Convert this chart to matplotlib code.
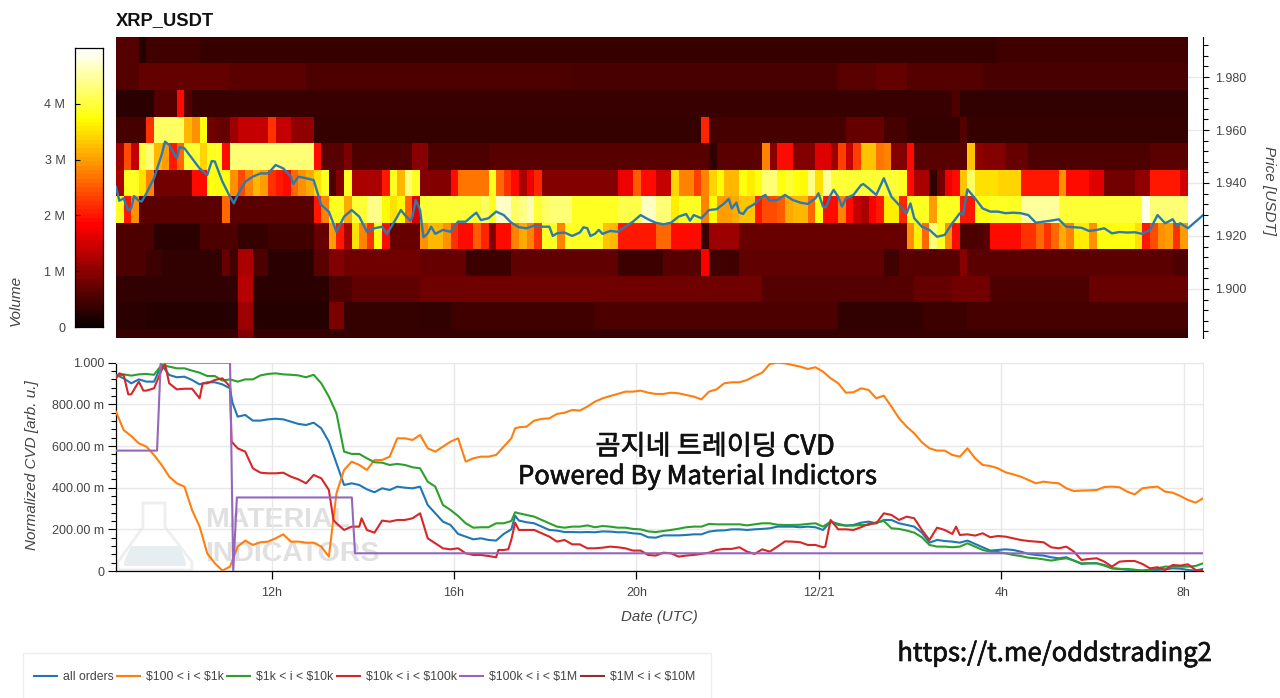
import numpy as np
import matplotlib
matplotlib.use("Agg")
import matplotlib.pyplot as plt
import matplotlib.patheffects as pe
from matplotlib.patches import Rectangle, Polygon

plt.rcParams['font.family'] = ['Liberation Sans', 'Noto Sans CJK KR', 'DejaVu Sans']
plt.rcParams['text.parse_math'] = False

W, H = 1280, 698
N_COLS = 141

# hours since 12/20 00:00 of the first sample, samples every 10 minutes
t_start = 8.59

# heatmap rows, volume in millions as (number of 10 min bins, value), top row first
row_199 = [(3, 0.55), (1, 0.2), (7, 0.42), (105, 0.35), (25, 0.42)]
row_198 = [(3, 0.55), (12, 0.68), (10, 0.62), (35, 0.5), (35, 0.47), (5, 0.6), (4, 0.68), (10, 0.55), (22, 0.47)]
row_197 = [(5, 0.25), (3, 0.55), (1, 1.9), (1, 0.55), (100, 0.36), (1, 0.5), (30, 0.3)]
row_196 = [(4, 0.45), (1, 2.2), (4, 4.2), (1, 3.2), (1, 2.9), (1, 3.8), (1, 0.8), (2, 0.7), (1, 1.1), (4, 1.4),
           (1, 2.2), (2, 1.4), (3, 1.0), (51, 0.33), (1, 2.1), (18, 0.45), (5, 0.7), (3, 0.45), (7, 0.33), (1, 0.55), (29, 0.33)]
row_195 = [(1, 1.1), (1, 2.4), (1, 1.4), (1, 4.0), (1, 4.3), (1, 3.2), (1, 3.0), (1, 2.0), (1, 2.6), (2, 4.0), (1, 3.4),
           (2, 3.9), (1, 1.9), (11, 4.3), (1, 1.9), (3, 0.6), (1, 0.85), (8, 0.5), (2, 0.95), (8, 0.5), (29, 0.58), (1, 0.3),
           (6, 0.62), (1, 2.8), (1, 0.95), (2, 1.9), (3, 0.9), (2, 1.6), (1, 1.1), (1, 2.3), (1, 1.4), (1, 2.3), (2, 3.3),
           (1, 2.7), (1, 2.8), (2, 0.9), (1, 1.9), (7, 0.6), (1, 3.3), (1, 1.0), (3, 0.9), (3, 0.7), (16, 0.5), (6, 0.6)]
row_194 = [(1, 1.2), (2, 3.9), (1, 3.5), (1, 2.8), (5, 0.8), (2, 1.9), (3, 3.8), (1, 2.9), (1, 2.4), (1, 2.8), (1, 3.2),
           (1, 3.0), (1, 2.2), (1, 2.0), (1, 1.9), (1, 2.6), (1, 2.9), (1, 3.1), (1, 3.5), (1, 3.9), (1, 0.5), (1, 0.9),
           (1, 3.9), (4, 1.2), (1, 2.0), (1, 3.9), (1, 3.2), (1, 4.3), (1, 3.9), (4, 0.9), (1, 1.9), (3, 2.7), (1, 2.7),
           (1, 3.9), (1, 2.6), (1, 2.2), (1, 1.9), (1, 1.2), (1, 1.7), (1, 2.1), (10, 0.9), (2, 1.7), (1, 2.5), (2, 1.9),
           (2, 1.4), (1, 3.4), (2, 2.8), (1, 2.3), (1, 2.8), (1, 3.4), (1, 3.7), (2, 3.2), (1, 3.8), (1, 3.6), (1, 3.8),
           (2, 4.3), (1, 3.8), (1, 4.0), (1, 3.8), (1, 3.7), (1, 4.4), (1, 3.5), (1, 4.5), (9, 4.0), (1, 3.9), (1, 1.9),
           (2, 1.2), (1, 0.3), (1, 0.8), (1, 1.7), (1, 1.9), (1, 3.3), (1, 4.2), (3, 3.5), (3, 3.4), (5, 2.0), (1, 2.9),
           (3, 1.9), (2, 1.6), (4, 0.8), (2, 1.0), (4, 2.0), (1, 1.5)]
row_193 = [(1, 3.9), (1, 2.0), (1, 2.9), (11, 0.62), (1, 2.6), (11, 0.62), (1, 2.0), (1, 2.8), (2, 3.9), (1, 3.1), (2, 4.0),
           (2, 4.4), (1, 3.7), (1, 3.5), (1, 3.7), (1, 2.6), (1, 1.6), (8, 4.0), (1, 4.2), (1, 3.9), (2, 4.7), (1, 4.2),
           (1, 4.4), (1, 4.6), (1, 4.0), (1, 4.2), (1, 4.3), (2, 4.3), (6, 3.9), (3, 4.1), (2, 4.7), (2, 4.3), (1, 3.6),
           (3, 3.9), (1, 2.8), (1, 3.7), (2, 3.0), (1, 3.1), (2, 3.3), (1, 2.0), (2, 2.4), (1, 2.5), (1, 3.1), (2, 3.2),
           (1, 2.6), (1, 3.8), (2, 1.9), (1, 2.8), (1, 1.9), (1, 1.4), (1, 1.2), (1, 1.8), (1, 2.0), (2, 3.6), (1, 2.1),
           (3, 3.9), (1, 3.0), (3, 3.9), (2, 2.0), (2, 3.8), (4, 3.9), (5, 4.5), (11, 4.0), (1, 4.9), (5, 4.3)]
row_192 = [(5, 0.5), (6, 0.25), (5, 0.5), (4, 0.33), (6, 0.42), (2, 0.7), (1, 3.0), (1, 2.0), (1, 1.2), (1, 3.5), (1, 2.8),
           (1, 2.2), (1, 3.8), (1, 1.9), (4, 0.7), (1, 2.9), (2, 3.2), (1, 2.9), (1, 2.2), (2, 1.9), (1, 2.5), (1, 2.1),
           (1, 0.9), (2, 1.9), (1, 2.8), (1, 3.1), (1, 2.8), (1, 2.2), (2, 3.9), (1, 2.8), (5, 3.9), (1, 3.3), (1, 3.2),
           (5, 2.0), (2, 2.6), (4, 1.9), (1, 0.35), (4, 1.1), (22, 0.72), (1, 2.9), (1, 3.6), (1, 2.6), (1, 4.3), (1, 3.9),
           (1, 2.9), (1, 1.9), (3, 0.5), (1, 0.6), (4, 1.9), (2, 2.2), (1, 2.6), (1, 2.2), (1, 2.6), (1, 3.1), (1, 2.8),
           (2, 3.6), (1, 2.9), (5, 3.8), (1, 3.5), (1, 2.0), (1, 2.4), (1, 2.9), (1, 3.0), (1, 2.2), (1, 3.0)]
row_191 = [(4, 0.5), (2, 0.38), (8, 0.3), (1, 0.7), (1, 0.42), (2, 1.2), (2, 0.5), (6, 0.25), (2, 0.6), (2, 0.9), (10, 0.78),
           (6, 0.7), (6, 0.38), (14, 0.66), (6, 0.38), (5, 0.58), (1, 1.8), (4, 0.42), (19, 0.66), (2, 0.42), (8, 0.58), (1, 0.95),
           (27, 0.62), (6, 0.5)]
row_190 = [(16, 0.3), (2, 1.3), (10, 0.25), (3, 0.5), (9, 0.66), (45, 0.76), (20, 0.56), (5, 0.7), (5, 0.8), (13, 0.5), (13, 0.72)]
row_189 = [(4, 0.25), (12, 0.2), (2, 1.1), (10, 0.2), (2, 0.85), (10, 0.33), (4, 0.3), (19, 0.42), (32, 0.5), (11, 0.3), (6, 0.38), (29, 0.46)]
row_188 = [(16, 0.33), (2, 0.9), (123, 0.33)]
rows_top_first = [row_199, row_198, row_197, row_196, row_195, row_194, row_193, row_192, row_191, row_190, row_189, row_188]

# last traded price, 10 min samples
price = [1.9386, 1.9342, 1.9305, 1.9333, 1.9361, 1.9418, 1.9506, 1.9543, 1.9493, 1.9531, 1.9493, 1.9455, 1.9430, 1.9481, 1.9405, 1.9348,
         1.9355, 1.9405, 1.9424, 1.9436, 1.9436, 1.9468, 1.9455, 1.9424, 1.9424, 1.9418, 1.9411, 1.9317, 1.9292, 1.9216, 1.9273, 1.9298,
         1.9273, 1.9216, 1.9229, 1.9235, 1.9225, 1.9273, 1.9279, 1.9273, 1.9298, 1.9210, 1.9208, 1.9223, 1.9216, 1.9254, 1.9254, 1.9279,
         1.9260, 1.9267, 1.9292, 1.9279, 1.9250, 1.9233, 1.9229, 1.9239, 1.9235, 1.9235, 1.9210, 1.9213, 1.9200, 1.9213, 1.9229, 1.9208,
         1.9208, 1.9219, 1.9216, 1.9235, 1.9254, 1.9279, 1.9263, 1.9250, 1.9244, 1.9250, 1.9273, 1.9283, 1.9279, 1.9267, 1.9298, 1.9301,
         1.9323, 1.9304, 1.9288, 1.9304, 1.9321, 1.9348, 1.9333, 1.9336, 1.9355, 1.9336, 1.9326, 1.9321, 1.9342, 1.9311, 1.9355, 1.9348,
         1.9342, 1.9355, 1.9392, 1.9380, 1.9355, 1.9418, 1.9348, 1.9317, 1.9286, 1.9267, 1.9235, 1.9223, 1.9197, 1.9204, 1.9248, 1.9286,
         1.9376, 1.9342, 1.9304, 1.9292, 1.9292, 1.9286, 1.9288, 1.9286, 1.9279, 1.9250, 1.9254, 1.9258, 1.9263, 1.9235, 1.9233, 1.9231,
         1.9219, 1.9223, 1.9229, 1.9210, 1.9215, 1.9213, 1.9214, 1.9208, 1.9223, 1.9279, 1.9248, 1.9263, 1.9248, 1.9229, 1.9254, 1.9279]
# spikes between the 10 min samples, position in bins and price
price_spike_bin = [0.44, 1.62, 2.37, 3.38, 6.45, 8.33, 12.6, 15.5, 23.3, 35.6, 37.46, 38.7, 39.43, 40.44, 41.45, 47.4,
                   57.46, 61.5, 62.4, 63.5, 75.5, 80.6, 81.6, 82.5, 85.4, 92.4, 93.4, 94.4, 95.5, 98.3, 104.5, 111.4, 139.5]
price_spike = [1.9333, 1.9296, 1.9351, 1.9330, 1.9556, 1.9535, 1.9483, 1.9323, 1.9396, 1.9208, 1.9298, 1.9258, 1.9336, 1.9195, 1.9235, 1.9288,
               1.9200, 1.9233, 1.9200, 1.9223, 1.9258, 1.9340, 1.9326, 1.9283, 1.9355, 1.9361, 1.9308, 1.9374, 1.9311, 1.9396, 1.9323, 1.9279, 1.9239]

# normalized CVD per order size, same 10 min samples
cvd_all = [.941, .925, .901, .920, .909, .909, .989, .941, .930, .933, .917, .896, .906, .906, .896, .877,
           .741, .749, .722, .722, .728, .731, .728, .717, .706, .701, .712, .685, .621, .517, .413, .421,
           .413, .392, .378, .397, .389, .405, .400, .397, .405, .317, .277, .237, .221, .178, .165, .152,
           .157, .149, .146, .178, .200, .242, .234, .229, .213, .197, .194, .187, .187, .186, .187, .186,
           .190, .189, .186, .186, .181, .178, .162, .160, .171, .171, .171, .173, .176, .176, .189, .194,
           .195, .200, .200, .197, .200, .202, .205, .213, .213, .213, .210, .213, .210, .197, .237, .226,
           .218, .221, .232, .237, .229, .245, .245, .229, .221, .213, .184, .136, .149, .144, .141, .136,
           .146, .130, .114, .098, .101, .104, .101, .093, .082, .077, .074, .066, .061, .066, .050, .034,
           .037, .037, .029, .013, .010, .006, .005, .002, .005, .005, .008, .013, .011, .005, .002, .010]
cvd_100_1k = [.765, .677, .648, .613, .597, .557, .509, .453, .421, .405, .293, .213, .085, .037, .002, .021,
              .117, .146, .125, .138, .141, .157, .176, .141, .141, .136, .136, .117, .069, .373, .485, .525,
              .509, .485, .533, .533, .549, .637, .637, .629, .653, .589, .573, .597, .621, .637, .525, .541,
              .549, .549, .557, .597, .637, .690, .693, .722, .730, .733, .754, .760, .773, .770, .789, .813,
              .829, .840, .850, .861, .861, .866, .856, .850, .850, .856, .853, .845, .837, .824, .861, .872,
              .901, .906, .906, .917, .936, .952, .994, 1.0, .997, .989, .981, .970, .978, .957, .925, .901,
              .856, .858, .877, .869, .829, .842, .789, .733, .693, .661, .618, .589, .578, .578, .557, .549,
              .589, .541, .509, .504, .493, .474, .464, .453, .437, .421, .429, .424, .421, .397, .384, .386,
              .387, .389, .403, .405, .402, .381, .368, .397, .402, .405, .381, .376, .360, .341, .328, .349]
cvd_1k_10k = [.933, .944, .938, .944, .946, .942, .989, .981, .973, .973, .962, .952, .936, .936, .914, .920,
              .909, .920, .920, .939, .946, .949, .944, .942, .939, .930, .942, .901, .837, .757, .573, .562,
              .562, .541, .522, .520, .509, .514, .509, .498, .493, .429, .405, .317, .293, .264, .229, .208,
              .210, .210, .229, .229, .240, .277, .269, .261, .245, .229, .213, .208, .213, .213, .219, .210,
              .216, .213, .208, .208, .202, .200, .190, .187, .192, .197, .203, .210, .213, .213, .226, .224,
              .224, .224, .224, .219, .224, .229, .229, .222, .221, .221, .222, .226, .229, .213, .237, .221,
              .218, .218, .221, .221, .234, .240, .205, .202, .194, .184, .162, .125, .117, .117, .114, .117,
              .133, .117, .101, .093, .091, .085, .077, .072, .064, .061, .056, .050, .056, .061, .050, .037,
              .037, .037, .026, .013, .010, .010, .006, .002, .005, .013, .021, .021, .021, .021, .024, .037]
cvd_10k_100k = [.925, .941, .848, .909, .866, .877, .965, .901, .872, .875, .875, .829, .901, .917, .925, .885,
                .589, .573, .493, .472, .469, .469, .472, .453, .440, .421, .461, .445, .389, .229, .197, .213,
                .213, .197, .184, .242, .237, .245, .245, .253, .277, .157, .133, .109, .104, .109, .085, .077,
                .077, .072, .066, .101, .150, .197, .197, .197, .181, .165, .141, .149, .128, .128, .109, .109,
                .112, .117, .114, .109, .098, .098, .077, .074, .088, .085, .069, .074, .077, .082, .088, .101,
                .106, .106, .114, .093, .082, .104, .093, .117, .142, .141, .138, .125, .125, .114, .245, .200,
                .200, .197, .210, .226, .229, .277, .269, .245, .261, .253, .197, .149, .208, .197, .178, .173,
                .176, .170, .181, .162, .168, .165, .157, .149, .144, .141, .138, .114, .109, .117, .093, .053,
                .058, .061, .045, .021, .045, .048, .048, .034, .013, .018, .005, .029, .026, .032, .005, .002]
all_spike_bin = [15.3, 52.5]
all_spike = [.810, .265]
orange_spike_bin = [52.5]
orange_spike = [.685]
green_spike_bin = [52.5]
green_spike = [.282]
red_spike_bin = [0.44, 1.62, 3.6, 6.45, 11.4, 15.2, 28.6, 32.3, 50.3, 51.6, 52.5, 93.3, 110.5]
red_spike = [.949, .848, .866, .994, .901, .621, .245, .253, .101, .104, .232, .117, .213]

# this one only changes a few times
step_hours = [8.59, 9.49, 9.57, 11.09, 11.16, 11.24, 13.76, 13.83, 32.42]
cvd_100k_1m = [.578, .578, 1.0, 1.0, 0.0, .353, .353, .085, .085]

# no visible data for the last size class
cvd_1m_10m = []

volume_ticks = [0, 1, 2, 3, 4]
volume_labels = ['0', '1 M', '2 M', '3 M', '4 M']
price_ticks = [1.90, 1.92, 1.94, 1.96, 1.98]
price_minor = [1.884, 1.888, 1.892, 1.896, 1.904, 1.908, 1.912, 1.916, 1.924, 1.928, 1.932, 1.936,
               1.944, 1.948, 1.952, 1.956, 1.964, 1.968, 1.972, 1.976, 1.984, 1.988, 1.992]
cvd_ticks = [0, .2, .4, .6, .8, 1.0]
cvd_labels = ['0', '200.00 m', '400.00 m', '600.00 m', '800.00 m', '1.000']
hour_ticks = [12, 16, 20, 24, 28, 32]
hour_labels = ['12h', '16h', '20h', '12/21', '4h', '8h']

C_TEXT = '#444444'
C_GRID = '#e8e8e8'
KR_FONT = ['Noto Sans CJK KR', 'DejaVu Sans']


def expand(row):
    out = []
    for n, v in row:
        out += [v] * n
    out = out[:N_COLS]
    out += [out[-1]] * (N_COLS - len(out))
    return out


def merge(values, spike_bin, spike):
    # put the in between points into the regular series
    b = np.concatenate([np.arange(len(values)), spike_bin])
    v = np.concatenate([values, spike])
    order = np.argsort(b)
    return t_start + b[order] / 6, v[order]


def px_box(x0, y0, x1, y1):
    return [x0 / W, 1 - y1 / H, (x1 - x0) / W, (y1 - y0) / H]


def fx(x):
    return x / W


def fy(y):
    return 1 - y / H


fig = plt.figure(figsize=(W / 100, H / 100), dpi=100, facecolor='white')

volume = np.array([expand(r) for r in rows_top_first])
x_min, x_max = 8.59, 32.42

# heatmap panel
ax = fig.add_axes(px_box(116, 37, 1203, 338))
ax.imshow(volume, cmap='hot', vmin=0, vmax=5, aspect='auto', interpolation='nearest',
          extent=[t_start, t_start + N_COLS / 6, 1.875, 1.995], zorder=2)
ph, pv = merge(price, price_spike_bin, price_spike)
ax.plot(ph, pv, color='#2b7bb0', lw=1.7, zorder=3, solid_joinstyle='round')
ax.set_xlim(x_min, x_max)
ax.set_ylim(1.8815, 1.9951)
ax.yaxis.tick_right()
ax.set_yticks(price_ticks)
ax.set_yticklabels(['%.3f' % p for p in price_ticks], color=C_TEXT, fontsize=9)
ax.set_yticks(price_minor, minor=True)
ax.tick_params(axis='y', which='major', length=4.5, width=0.8, pad=4)
ax.tick_params(axis='y', which='minor', length=3.5, width=0.8)
ax.set_xticks([])
for s in ['top', 'left', 'bottom']:
    ax.spines[s].set_visible(False)
ax.spines['right'].set_linewidth(0.8)
ax.set_axisbelow(True)
ax.grid(axis='y', color=C_GRID, lw=1)
fig.text(fx(116), fy(20.5), 'XRP_USDT', fontsize=13.2, fontweight='bold', color='#111111', va='center')
fig.text(fx(1269), fy(190), 'Price [USDT]', rotation=270, style='italic', fontsize=11, color=C_TEXT,
         ha='center', va='center')

# colour bar
cax = fig.add_axes(px_box(75, 48, 103, 327))
cax.imshow(np.linspace(5, 0, 64).reshape(-1, 1), cmap='hot', vmin=0, vmax=5, aspect='auto',
           extent=[0, 1, 0, 5], interpolation='nearest')
cax.set_xticks([])
cax.set_yticks(volume_ticks)
cax.set_yticklabels(volume_labels, color=C_TEXT, fontsize=9)
cax.tick_params(axis='y', direction='in', length=3.5, width=0.8, pad=7)
for s in cax.spines.values():
    s.set_linewidth(0.9)
fig.text(fx(16), fy(300), 'Volume', rotation=90, style='italic', fontsize=11, color=C_TEXT, ha='center', va='center')

# CVD panel
ax2 = fig.add_axes(px_box(116, 362.7, 1203, 571))
ah, av = merge(cvd_all, all_spike_bin, all_spike)
oh, ov = merge(cvd_100_1k, orange_spike_bin, orange_spike)
gh, gv = merge(cvd_1k_10k, green_spike_bin, green_spike)
rh, rv = merge(cvd_10k_100k, red_spike_bin, red_spike)
ax2.plot(ah, av, color='#1f77b4', lw=1.5, label='all orders', zorder=3)
ax2.plot(oh, ov, color='#ff7f0e', lw=1.5, label='$100 < i < $1k', zorder=3)
ax2.plot(gh, gv, color='#2ca02c', lw=1.5, label='$1k < i < $10k', zorder=3)
ax2.plot(rh, rv, color='#d62728', lw=1.5, label='$10k < i < $100k', zorder=3)
ax2.plot(step_hours, cvd_100k_1m, color='#9467bd', lw=1.5, label='$100k < i < $1M', zorder=3)
ax2.plot(cvd_1m_10m, cvd_1m_10m, color='#8c3030', lw=1.5, label='$1M < i < $10M', zorder=3)
ax2.set_xlim(x_min, x_max)
ax2.set_ylim(0, 1)
ax2.set_xticks(hour_ticks)
ax2.set_xticklabels(hour_labels, color=C_TEXT, fontsize=9)
ax2.set_yticks(cvd_ticks)
ax2.set_yticklabels(cvd_labels, color=C_TEXT, fontsize=9)
ax2.set_yticks(np.arange(0, 1.0, .04), minor=True)
ax2.tick_params(axis='y', which='major', length=5.5, width=0.8, pad=3)
ax2.tick_params(axis='y', which='minor', length=3.5, width=0.8)
ax2.tick_params(axis='x', which='major', length=5.5, width=0.9, pad=6)
ax2.grid(color=C_GRID, lw=1)
ax2.set_axisbelow(True)
ax2.spines['top'].set_color(C_GRID)
ax2.spines['right'].set_color(C_GRID)
ax2.spines['left'].set_linewidth(0.9)
ax2.spines['bottom'].set_linewidth(0.9)
ax2.patch.set_alpha(0)
fig.text(fx(32), fy(465), 'Normalized CVD [arb. u.]', rotation=90, style='italic', fontsize=11, color=C_TEXT,
         ha='center', va='center')
fig.text(fx(659), fy(617), 'Date (UTC)', style='italic', fontsize=10.8, color=C_TEXT, ha='center', va='center')

# watermark behind the lines
flask = [(143, 503), (165, 503), (165, 527), (192, 562), (192, 570), (118, 570), (118, 562), (143, 527)]
fig.patches.append(Polygon([(fx(a), fy(b)) for a, b in flask], closed=True, transform=fig.transFigure,
                           facecolor='white', edgecolor='#eeeeee', lw=2, zorder=-2))
liquid = [(131, 546), (180, 546), (186, 562), (186, 566), (124, 566), (124, 562)]
fig.patches.append(Polygon([(fx(a), fy(b)) for a, b in liquid], closed=True, transform=fig.transFigure,
                           facecolor='#e6eef2', edgecolor='none', zorder=-1))
fig.text(fx(205), fy(520), 'MATERIAL', fontsize=20.5, fontweight='bold', color='#e0e0e0', va='center', zorder=-1)
fig.text(fx(205), fy(554), 'INDICATORS', fontsize=20.5, fontweight='bold', color='#e0e0e0', va='center', zorder=-1)

# text pasted on top of the chart
thicker = [pe.withStroke(linewidth=0.5, foreground='#111111')]
fig.text(fx(715), fy(447), '곰지네 트레이딩 CVD', family=KR_FONT, fontsize=19.6,
         color='#111111', ha='center', va='center', path_effects=thicker)
fig.text(fx(698), fy(477), 'Powered By Material Indictors', family=KR_FONT, fontsize=18.5,
         color='#111111', ha='center', va='center', path_effects=thicker)
fig.text(fx(1055), fy(654), 'https://t.me/oddstrading2', family=KR_FONT, fontsize=18.4,
         color='#111111', ha='center', va='center', path_effects=thicker)

# legend box runs off the bottom of the picture
fig.patches.append(Rectangle((fx(23), fy(700)), (711 - 23) / W, 47 / H, transform=fig.transFigure,
                             facecolor='white', edgecolor='#eeeeee', lw=1))
handles, labels = ax2.get_legend_handles_labels()
fig.legend(handles, labels, ncol=6, frameon=False, loc='center left', bbox_to_anchor=(fx(34), fy(677)),
           borderpad=0, borderaxespad=0, fontsize=8.8, handlelength=1.85, handletextpad=0.5, columnspacing=0.3,
           labelcolor=C_TEXT)

fig.savefig('out.png', dpi=100)
